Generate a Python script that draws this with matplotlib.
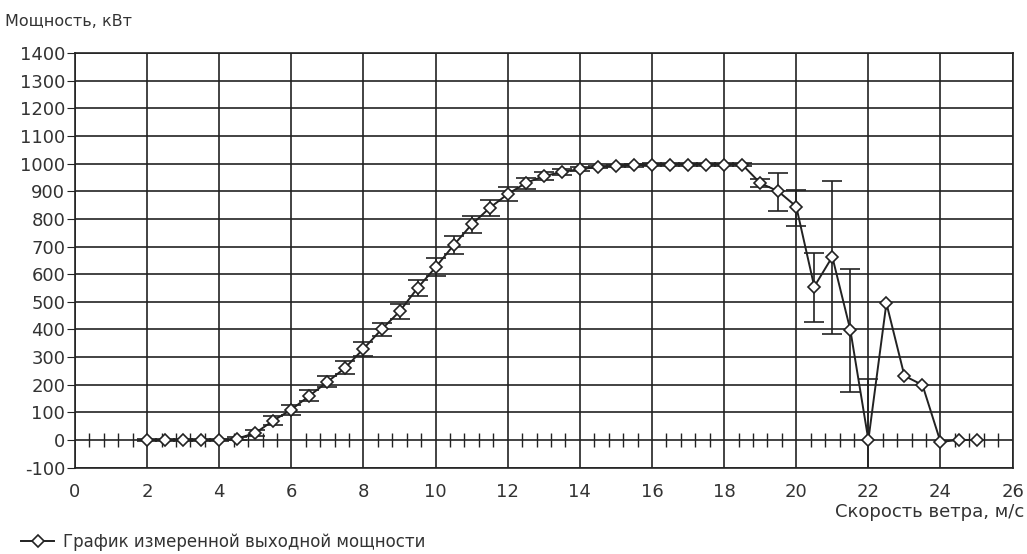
import numpy as np
import matplotlib
matplotlib.use("Agg")
import matplotlib.pyplot as plt
from matplotlib.lines import Line2D

plt.rcParams["font.family"] = ["DejaVu Sans"]
plt.rcParams["font.size"] = 13
plt.rcParams["axes.unicode_minus"] = False

# --- data --------------------------------------------------------------------
wind = [2.0, 2.5, 3.0, 3.5, 4.0, 4.5, 5.0, 5.5, 6.0, 6.5, 7.0, 7.5, 8.0, 8.5,
        9.0, 9.5, 10.0, 10.5, 11.0, 11.5, 12.0, 12.5, 13.0, 13.5, 14.0, 14.5,
        15.0, 15.5, 16.0, 16.5, 17.0, 17.5, 18.0, 18.5, 19.0, 19.5, 20.0,
        20.5, 21.0, 21.5, 22.0, 22.5, 23.0, 23.5, 24.0, 24.5, 25.0]
power = [0, 0, 0, 0, 0, 5, 25, 70, 110, 160, 210, 262, 330, 400,
         465, 550, 625, 705, 780, 840, 890, 930, 955, 970, 980, 988,
         992, 994, 996, 997, 997, 997, 997, 997, 930, 900, 845,
         555, 663, 398, 0, 495, 232, 199, -7, 0, 0]
err_low = [5, 5, 5, 5, 5, 5, 10, 15, 18, 20, 20, 22, 25, 25,
           28, 30, 32, 32, 30, 28, 25, 20, 15, 12, 8, 5,
           5, 5, 5, 5, 5, 5, 5, 5, 15, 72, 70,
           128, 280, 224, 128, 0, 0, 0, 0, 0, 0]
err_high = [5, 5, 5, 5, 5, 5, 10, 15, 18, 20, 20, 22, 25, 25,
            28, 30, 32, 32, 30, 28, 25, 20, 15, 12, 8, 5,
            5, 5, 5, 5, 5, 5, 5, 5, 15, 68, 60,
            120, 274, 222, 220, 0, 0, 0, 0, 0, 0]

x_ticks = np.arange(0, 27, 2)
y_ticks = np.arange(-100, 1401, 100)

ink = "#222222"
txt = "#333333"

fig = plt.figure(figsize=(10.27, 5.54), dpi=100)
ax = fig.add_axes([0.073, 0.156, 0.913, 0.748])

# error bars only where an interval was measured
w = np.array(wind)
p = np.array(power)
lo = np.array(err_low)
hi = np.array(err_high)
has_err = (lo + hi) > 0
ax.errorbar(w[has_err], p[has_err], yerr=[lo[has_err], hi[has_err]],
            fmt="none", ecolor=ink, elinewidth=1.2, capsize=7, capthick=1.2,
            zorder=3)
ax.plot(wind, power, color=ink, lw=1.4, marker="D", ms=6, mfc="white",
        mec=ink, mew=1.2, zorder=4)

ax.set_xlim(0, 26)
ax.set_ylim(-100, 1400)
ax.set_xticks(x_ticks)
ax.set_yticks(y_ticks)
ax.grid(True, color=ink, lw=1.2)
ax.set_axisbelow(True)
for s in ax.spines.values():
    s.set_color(ink)
    s.set_linewidth(1.2)

ax.tick_params(axis="y", direction="out", length=6, color=ink, labelcolor=txt,
               labelsize=13, pad=1)
ax.tick_params(axis="x", length=0, labelcolor=txt, labelsize=13, pad=11)

# minor ticks crossing the zero line
zero_frac = 100 / 1500
sec = ax.secondary_xaxis(zero_frac)
sec.spines["bottom"].set_visible(False)
sec.set_xticks([])
sec.set_xticks([v for v in np.arange(0.4, 26, 0.4)
                if abs(v / 2 - round(v / 2)) > 1e-6], minor=True)
sec.tick_params(which="minor", direction="inout", length=10, width=1.0,
                color=ink, labelbottom=False)

fig.text(0.005, 0.962, "Мощность, кВт", color=txt, fontsize=11.5,
         ha="left", va="center")
fig.text(0.997, 0.075, "Скорость ветра, м/с", color=txt, fontsize=13,
         ha="right", va="center")

handle = Line2D([], [], color=ink, lw=1.4, marker="D", ms=6,
                mfc="white", mec=ink, mew=1.2)
fig.legend([handle], ["График измеренной выходной мощности"],
           loc="lower left", bbox_to_anchor=(0.006, -0.022), frameon=False,
           handlelength=2.0, handletextpad=0.5, fontsize=12, labelcolor=txt)

fig.savefig("out.png", dpi=100, facecolor="white")
